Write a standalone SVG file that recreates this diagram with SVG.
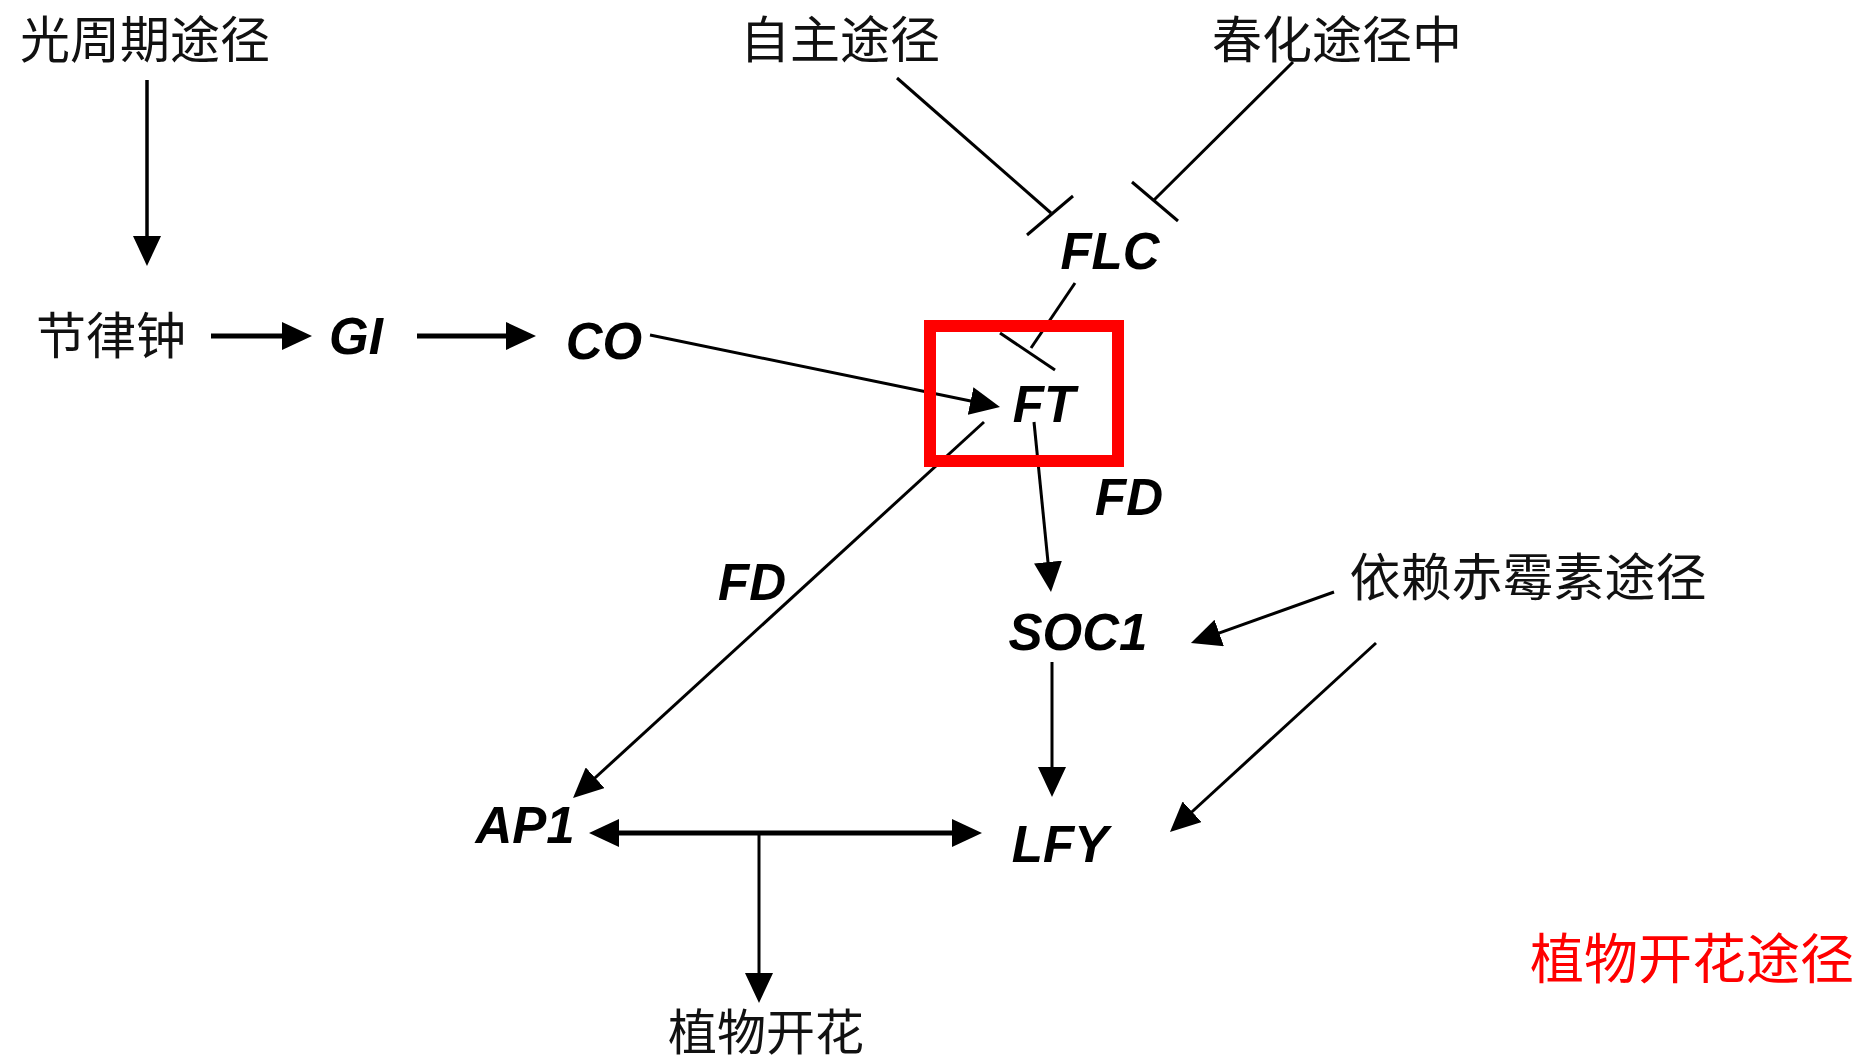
<svg xmlns="http://www.w3.org/2000/svg" width="1857" height="1062" viewBox="0 0 1857 1062">
  <style>
    .cjk { font-family: "Noto Sans CJK SC", sans-serif; font-size: 50px; fill: #111; text-anchor: middle; }
    .gene { font-family: "Liberation Sans", Arial, sans-serif; font-size: 51px; font-weight: bold; font-style: italic; fill: #000; text-anchor: middle; }
    .title { font-family: "Noto Sans CJK SC", sans-serif; font-size: 54px; fill: #FF0000; text-anchor: middle; }
    .thin { stroke: #000; stroke-width: 3; fill: none; }
    .thick { stroke: #000; stroke-width: 5; fill: none; }
    .arr { marker-end: url(#arrow); }
  </style>
  <defs>
    <marker id="arrow" viewBox="0 0 30 28" markerWidth="30" markerHeight="28" refX="10" refY="14" markerUnits="userSpaceOnUse" orient="auto-start-reverse">
      <path d="M0,0 L30,14 L0,28 Z" fill="#000"/>
    </marker>
  </defs>
  <rect width="1857" height="1062" fill="#fff"/>

  <g id="connectors">
    <line class="thin arr" x1="147" y1="80" x2="147" y2="246" style="stroke-width:3.5"/>
    <line class="thick arr" x1="211" y1="336" x2="292" y2="336"/>
    <line class="thick arr" x1="417" y1="336" x2="516" y2="336"/>
    <line class="thin arr" x1="650" y1="335" x2="980.4" y2="403"/>
    <line class="thin arr" x1="984" y1="422" x2="587.8" y2="784.5"/>
    <line class="thin arr" x1="1034" y1="422" x2="1049" y2="572"/>
    <line class="thin arr" x1="1052" y1="662" x2="1052" y2="777"/>
    <line class="thin arr" x1="1334" y1="592" x2="1209.8" y2="636.3"/>
    <line class="thin arr" x1="1376" y1="643" x2="1184.7" y2="818.5"/>
    <line class="thick" x1="609" y1="833" x2="962" y2="833" marker-start="url(#arrow)" marker-end="url(#arrow)"/>
    <line class="thin arr" x1="759" y1="833" x2="759" y2="983"/>
    <!-- inhibition (T-bar) connectors -->
    <line class="thin" x1="897" y1="78" x2="1051" y2="213"/>
    <line class="thin" x1="1027" y1="235" x2="1073" y2="196"/>
    <line class="thin" x1="1293" y1="62" x2="1154" y2="200"/>
    <line class="thin" x1="1132" y1="182" x2="1178" y2="221"/>
    <line class="thin" x1="1075" y1="283" x2="1031" y2="348"/>
    <line class="thin" x1="1000" y1="333" x2="1055" y2="370"/>
  </g>

  <g id="photoperiod"><text class="cjk" x="145" y="58">光周期途径</text></g>
  <g id="autonomous"><text class="cjk" x="840" y="58">自主途径</text></g>
  <g id="vernalization"><text class="cjk" x="1337" y="58">春化途径中</text></g>
  <g id="clock"><text class="cjk" x="111" y="354">节律钟</text></g>
  <g id="GI"><text class="gene" x="356" y="354">GI</text></g>
  <g id="CO"><text class="gene" x="604" y="359">CO</text></g>
  <g id="FLC"><text class="gene" x="1110" y="269">FLC</text></g>
  <g id="FT">
    <rect x="930" y="326" width="188" height="135" fill="none" stroke="#FF0000" stroke-width="12"/>
    <text class="gene" x="1044" y="422">FT</text>
  </g>
  <g id="FD-right"><text class="gene" x="1129" y="515">FD</text></g>
  <g id="FD-left"><text class="gene" x="752" y="600">FD</text></g>
  <g id="SOC1"><text class="gene" x="1078" y="650">SOC1</text></g>
  <g id="gibberellin"><text class="cjk" x="1528" y="596" style="font-size:51px">依赖赤霉素途径</text></g>
  <g id="AP1"><text class="gene" x="525" y="843">AP1</text></g>
  <g id="LFY"><text class="gene" x="1060" y="862">LFY</text></g>
  <g id="flowering"><text class="cjk" x="766" y="1050" style="font-size:49px">植物开花</text></g>
  <g id="title"><text class="title" x="1692" y="979">植物开花途径</text></g>
</svg>
